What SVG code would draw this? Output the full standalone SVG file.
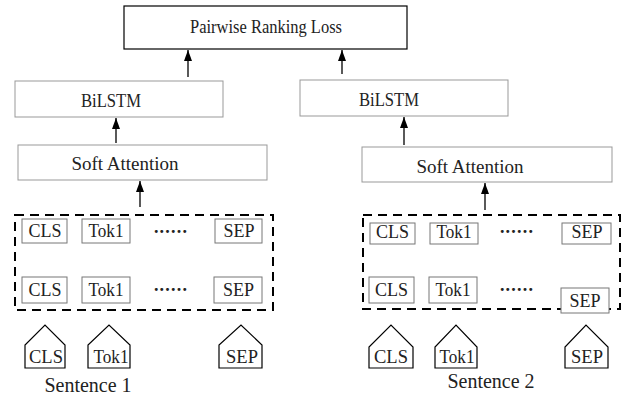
<svg xmlns="http://www.w3.org/2000/svg" width="626" height="400" viewBox="0 0 626 400" font-family="Liberation Serif, serif">
<defs>
<marker id="ah" markerWidth="11" markerHeight="8" refX="11" refY="4" orient="auto" markerUnits="userSpaceOnUse" viewBox="0 0 11 8">
<path d="M0,0 L11,4 L0,8 Z" fill="#000"/>
</marker>
</defs>
<style>
text{fill:#222;text-anchor:middle}
.title{font-size:19px}
.lstm{font-size:18px}
.att{font-size:19px}
.tk{font-size:18px}
.pt{font-size:18.5px}
.sent{font-size:20px}
.main{fill:#fff;stroke:#000;stroke-width:1.2}
.layer{fill:#fff;stroke:#999;stroke-width:1}
.tok{fill:#fff;stroke:#777;stroke-width:1}
.pent{fill:#fff;stroke:#000;stroke-width:1.2}
.dash{fill:none;stroke:#000;stroke-width:2;stroke-dasharray:9,6}
.arr{stroke:#000;stroke-width:1.3;fill:none;marker-end:url(#ah)}
.dots{font-size:18px;font-weight:bold;letter-spacing:1.2px}
</style>
<rect width="626" height="400" fill="#fff"/>

<g id="loss"><rect class="main" x="124" y="6" width="283" height="43"/><text class="title" x="266" y="33" textLength="152" lengthAdjust="spacingAndGlyphs">Pairwise Ranking Loss</text></g>

<g id="bilstm1"><rect class="layer" x="15" y="81" width="208" height="36"/><text class="lstm" x="111" y="107" textLength="60" lengthAdjust="spacingAndGlyphs">BiLSTM</text></g>
<g id="bilstm2"><rect class="layer" x="300" y="80" width="208" height="36"/><text class="lstm" x="389" y="106" textLength="60" lengthAdjust="spacingAndGlyphs">BiLSTM</text></g>

<g id="att1"><rect class="layer" x="18" y="145" width="249" height="35"/><text class="att" x="125" y="170">Soft Attention</text></g>
<g id="att2"><rect class="layer" x="362" y="147" width="250" height="35"/><text class="att" x="470" y="173">Soft Attention</text></g>

<g id="enc1">
<rect class="dash" x="15" y="215" width="258" height="95"/>
<rect class="tok" x="22" y="219" width="45" height="24"/><text class="tk" x="45" y="237">CLS</text>
<rect class="tok" x="82" y="219" width="48" height="24"/><text class="tk" x="106" y="237" textLength="35" lengthAdjust="spacingAndGlyphs">Tok1</text>
<text class="dots" x="171" y="233">......</text>
<rect class="tok" x="215" y="219" width="47" height="24"/><text class="tk" x="239" y="237">SEP</text>
<rect class="tok" x="22" y="277" width="45" height="26"/><text class="tk" x="45" y="296">CLS</text>
<rect class="tok" x="82" y="277" width="48" height="26"/><text class="tk" x="106" y="296" textLength="35" lengthAdjust="spacingAndGlyphs">Tok1</text>
<text class="dots" x="171" y="291">......</text>
<rect class="tok" x="214" y="277" width="48" height="26"/><text class="tk" x="238.5" y="296">SEP</text>
</g>

<g id="enc2">
<rect class="dash" x="363" y="215" width="257" height="94"/>
<rect class="tok" x="370" y="223" width="45" height="21"/><text class="tk" x="392.5" y="238">CLS</text>
<rect class="tok" x="430" y="223" width="48" height="21"/><text class="tk" x="454" y="238" textLength="35" lengthAdjust="spacingAndGlyphs">Tok1</text>
<text class="dots" x="517" y="233">......</text>
<rect class="tok" x="562" y="223" width="49" height="21"/><text class="tk" x="587" y="238">SEP</text>
<rect class="tok" x="369" y="277" width="45" height="26"/><text class="tk" x="391.5" y="296">CLS</text>
<rect class="tok" x="429" y="277" width="48" height="26"/><text class="tk" x="453" y="296" textLength="35" lengthAdjust="spacingAndGlyphs">Tok1</text>
<text class="dots" x="517" y="291">......</text>
<rect class="tok" x="561" y="288" width="48" height="25"/><text class="tk" x="585" y="307">SEP</text>
</g>

<g id="in1">
<path class="pent" d="M25,368 V345 L45,325 L65,345 V368 Z"/><text class="pt" x="46" y="363">CLS</text>
<path class="pent" d="M88,368 V345 L109,325 L130,345 V368 Z"/><text class="pt" x="111" y="363" textLength="35" lengthAdjust="spacingAndGlyphs">Tok1</text>
<path class="pent" d="M219,368 V345 L241,325 L262,345 V368 Z"/><text class="pt" x="242" y="363">SEP</text>
<text class="sent" x="88" y="392">Sentence 1</text>
</g>

<g id="in2">
<path class="pent" d="M369,368 V347 L391,325 L413,347 V368 Z"/><text class="pt" x="391" y="363">CLS</text>
<path class="pent" d="M435,368 V347 L456,325 L477,347 V368 Z"/><text class="pt" x="457" y="363" textLength="35" lengthAdjust="spacingAndGlyphs">Tok1</text>
<path class="pent" d="M565,368 V347 L586,325 L608,347 V368 Z"/><text class="pt" x="587" y="363">SEP</text>
<text class="sent" x="491" y="388">Sentence 2</text>
</g>

<g id="connectors">
<line class="arr" x1="188" y1="77" x2="188" y2="50"/>
<line class="arr" x1="342" y1="74" x2="342" y2="50"/>
<line class="arr" x1="116" y1="143" x2="116" y2="118"/>
<line class="arr" x1="404" y1="145" x2="404" y2="117"/>
<line class="arr" x1="140" y1="207" x2="140" y2="181"/>
<line class="arr" x1="485" y1="210" x2="485" y2="183"/>
</g>
</svg>
